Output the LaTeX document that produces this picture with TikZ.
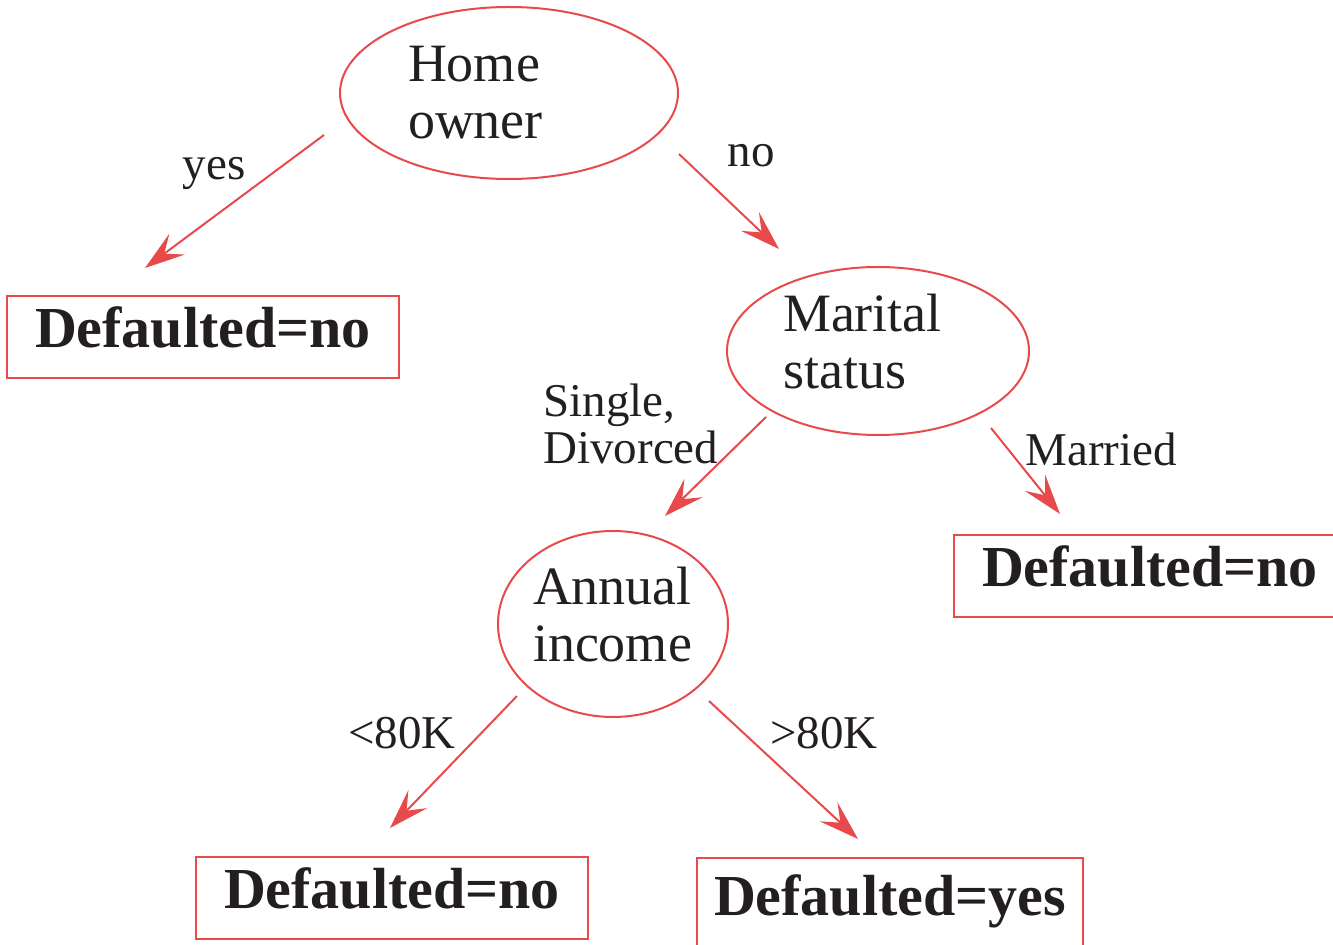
\documentclass[tikz,border=0pt]{standalone}
\usepackage{fontspec}
\setmainfont{Liberation Serif}
\usepackage{xcolor}
\usetikzlibrary{arrows.meta,shapes.geometric}
\definecolor{treered}{RGB}{232,74,76}
\definecolor{inkc}{RGB}{35,31,32}

\begin{document}
\begin{tikzpicture}[x=0.5pt,y=-0.5pt,text=inkc,
  splitnode/.style={ellipse,draw=treered,line width=1pt,inner sep=0pt,align=left,
                    font=\fontsize{27}{28.5}\selectfont},
  leaf/.style={draw=treered,line width=1pt,inner sep=0pt,minimum width=196pt,
               minimum height=41pt,text depth=10pt,font=\fontsize{29}{30}\selectfont\bfseries},
  branch/.style={draw=treered,line width=1pt,-{Stealth[length=20pt,width=13pt,inset=8pt]}},
  lbl/.style={inner sep=0pt,font=\fontsize{23.5}{23.5}\selectfont}]
\useasboundingbox (0,0) rectangle (1333,945);
% --- split nodes ---
\node[splitnode,minimum width=169pt,minimum height=86pt,text width=101pt] (home) at (509,93) {Home\\owner};
\node[splitnode,minimum width=151pt,minimum height=84pt,text width=95pt,text depth=38.5pt] (marital) at (878,351) {Marital\\status};
\node[splitnode,minimum width=115pt,minimum height=93pt,text width=80pt,text depth=38.5pt] (income) at (613,624) {Annual\\income};
% --- leaves ---
\node[leaf] (leafHome) at (203,337) {Defaulted=no};
\node[leaf] (leafMarried) at (1150,576) {Defaulted=no};
\node[leaf] (leafLow) at (392,898) {Defaulted=no};
\node[leaf,minimum width=193pt,minimum height=47pt] (leafHigh) at (890,905) {Defaulted=yes};
% --- arrow ends ---
\coordinate (yesS) at (324,135); \coordinate (yesE) at (145,268);
\coordinate (noS)  at (679,154); \coordinate (noE)  at (779,249);
\coordinate (sdS)  at (766,417); \coordinate (sdE)  at (665,516);
\coordinate (marS) at (991,428); \coordinate (marE) at (1060,514);
\coordinate (ltS)  at (517,696); \coordinate (ltE)  at (390,828);
\coordinate (gtS)  at (709,701); \coordinate (gtE)  at (858,839);
\draw[branch] (yesS) -- (yesE);
\draw[branch] (noS) -- (noE);
\draw[branch] (sdS) -- (sdE);
\draw[branch] (marS) -- (marE);
\draw[branch] (ltS) -- (ltE);
\draw[branch] (gtS) -- (gtE);
% --- branch labels ---
\node[lbl,anchor=base] (yesL) at (214,180) {yes};
\node[lbl,anchor=base] (noL) at (751,167) {no};
\node[lbl,anchor=north west,align=left] (sdL) at (543,383) {Single,\\Divorced};
\node[lbl,anchor=base west] (marL) at (1025,466) {Married};
\node[lbl,anchor=base west] (ltL) at (348,748) {<80K};
\node[lbl,anchor=base west] (gtL) at (770,748) {>80K};
\end{tikzpicture}
\end{document}
